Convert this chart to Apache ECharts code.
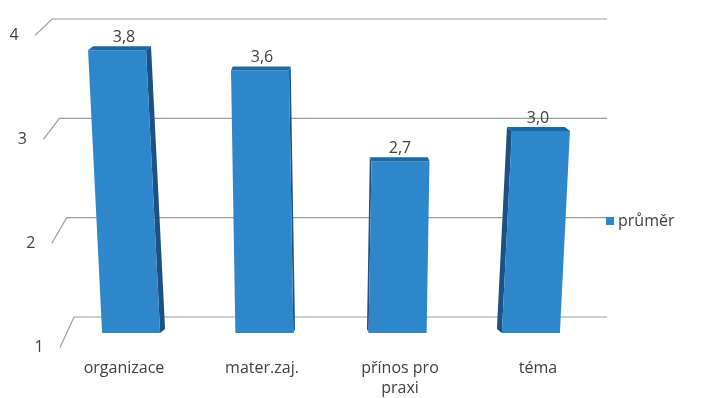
<!DOCTYPE html>
<html>
<head>
<meta charset="utf-8">
<script src="https://cdn.jsdelivr.net/npm/echarts@6/dist/echarts.min.js"></script>
<style>
  html, body { margin: 0; padding: 0; background: #fff; }
  #chart { width: 709px; height: 398px; }
</style>
</head>
<body>
<div id="chart"></div>
<script>
const categories = ['organizace', 'mater.zaj.', 'přínos pro\npraxi', 'téma'];
const prumer = [3.8, 3.6, 2.7, 3.0];
const yTicks = [1, 2, 3, 4];

const chart = echarts.init(document.getElementById('chart'));

const FRONT = '#2f87cb';
const TOP = '#1f679f';
const SIDE = '#1a5285';
const TEXT = '#404040';
const FONT = '"Open Sans", sans-serif';

// šikmé mřížky (zadní stěna + podlaha levé stěny)
function renderGrid(params, api) {
  const v = api.value(0);
  const cs = params.coordSys;
  const yb = api.coord([0, v])[1];
  const bx = 74 - (v - 1) * 7.3;
  const fx = bx - 14 - (v - 1);
  const fy = yb + 30.5 - (v - 1) * 4.7;
  return {
    type: 'group',
    children: [
      {
        type: 'polyline',
        shape: { points: [[fx, fy], [bx, yb], [cs.x + cs.width, yb]] },
        style: { stroke: '#9d9d9d', lineWidth: 1.2, fill: null },
      },
      {
        type: 'text',
        style: {
          text: String(v), x: fx - 21, y: fy, align: 'center', verticalAlign: 'middle',
          fill: TEXT, font: '16px ' + FONT,
        },
      },
    ],
  };
}

// 3D sloupce
function renderBar(params, api) {
  const i = api.value(0);
  const v = api.value(1);
  const base = api.coord([i, 1]);
  const cx = base[0];
  const y0 = base[1];
  const y1 = api.coord([i, v])[1];
  const hw = 29;
  const k = (cx - 331) * 0.00024;
  const off = (y) => cx + k * (190 - y);
  const s = -(cx - 331) * 0.024;
  const d = 4;
  const lt = off(y1) - hw, rt = off(y1) + hw;
  const lb = off(y0) - hw, rb = off(y0) + hw;
  const sideTop = s >= 0 ? rt : lt;
  const sideBot = s >= 0 ? rb : lb;
  return {
    type: 'group',
    children: [
      {
        type: 'polygon',
        shape: { points: [[sideTop, y1], [sideTop + s, y1 - d], [sideBot + s, y0 - d], [sideBot, y0]] },
        style: { fill: SIDE },
      },
      {
        type: 'polygon',
        shape: { points: [[lt, y1], [rt, y1], [rb, y0], [lb, y0]] },
        style: { fill: FRONT },
      },
      {
        type: 'polygon',
        shape: { points: [[lt, y1], [rt, y1], [rt + s, y1 - d], [lt + s, y1 - d]] },
        style: { fill: TOP },
      },
      {
        type: 'text',
        style: {
          text: v.toFixed(1).replace('.', ','), x: cx, y: y1 - 13,
          align: 'center', verticalAlign: 'middle', fill: TEXT, font: '16px ' + FONT,
        },
      },
    ],
  };
}

const option = {
  animation: false,
  legend: {
    data: ['průměr'],
    left: 601,
    top: 208,
    icon: 'rect',
    itemWidth: 8,
    itemHeight: 8,
    textStyle: { color: TEXT, fontSize: 16, fontFamily: FONT, padding: [0, 0, 0, -1] },
  },
  grid: [
    { left: 55, right: 102, top: 30, bottom: 65 },
    { left: 0, right: 102, top: 19, bottom: 81 },
  ],
  xAxis: [
    {
      type: 'category',
      data: categories,
      gridIndex: 0,
      axisLine: { show: false },
      axisTick: { show: false },
      axisLabel: { color: TEXT, fontSize: 16, fontFamily: FONT, margin: 25, lineHeight: 20 },
    },
    { type: 'value', gridIndex: 1, min: 0, max: 1, show: false },
  ],
  yAxis: [
    { type: 'value', gridIndex: 0, min: 1, max: 4, interval: 1, show: false },
    { type: 'value', gridIndex: 1, min: 1, max: 4, interval: 1, show: false },
  ],
  series: [
    {
      type: 'custom',
      xAxisIndex: 1,
      yAxisIndex: 1,
      z: 1,
      silent: true,
      renderItem: renderGrid,
      data: yTicks.map((t) => [t]),
      encode: { y: 0 },
    },
    {
      name: 'průměr',
      type: 'custom',
      xAxisIndex: 0,
      yAxisIndex: 0,
      z: 2,
      itemStyle: { color: FRONT },
      renderItem: renderBar,
      data: prumer.map((v, i) => [i, v]),
      encode: { x: 0, y: 1 },
    },
  ],
};

chart.setOption(option);
</script>
</body>
</html>
